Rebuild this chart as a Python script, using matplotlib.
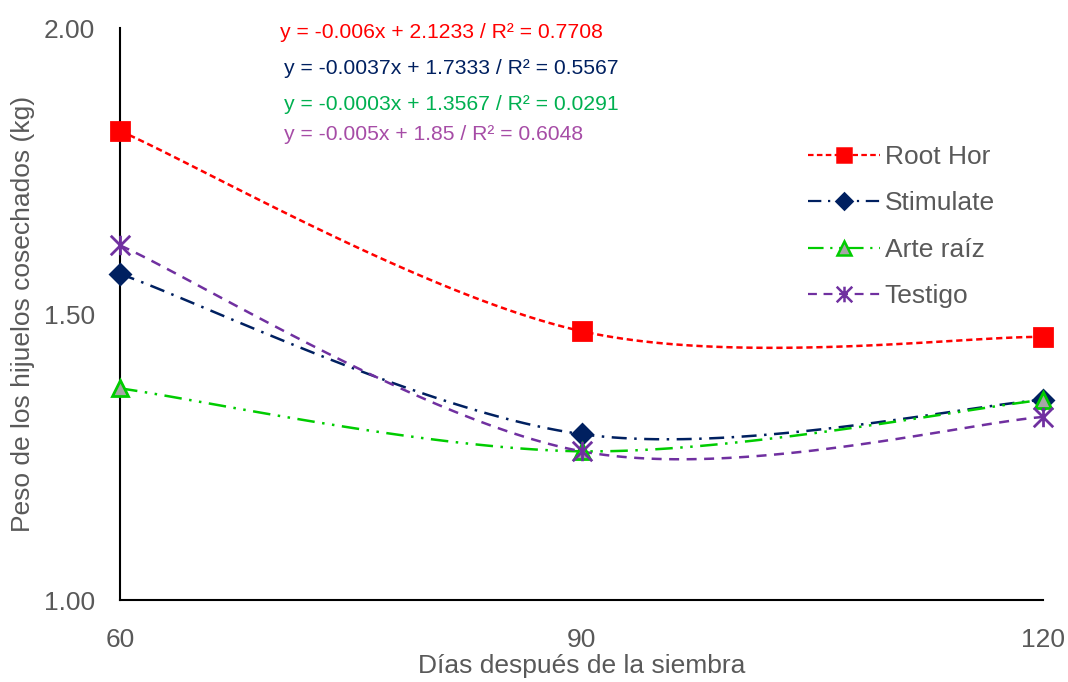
import numpy as np
import matplotlib
matplotlib.use("Agg")
import matplotlib.pyplot as plt
from matplotlib.path import Path

plt.rcParams['font.family'] = ['Liberation Sans', 'DejaVu Sans']

dias = [60, 90, 120]
root_hor = [1.82, 1.47, 1.46]
stimulate = [1.57, 1.29, 1.35]
arte_raiz = [1.37, 1.26, 1.35]
testigo = [1.62, 1.26, 1.32]

ecuaciones = [
    "y = -0.006x + 2.1233 / R² = 0.7708",
    "y = -0.0037x + 1.7333 / R² = 0.5567",
    "y = -0.0003x + 1.3567 / R² = 0.0291",
    "y = -0.005x + 1.85 / R² = 0.6048",
]
col_ec = ["#ff0000", "#002060", "#00b050", "#a64ca6"]


def suavizar(x, y, n=60):
    # curva suavizada tipo Excel (bezier con puntos de control a 1/6)
    x = np.asarray(x, float)
    y = np.asarray(y, float)
    px, py = [], []
    for i in range(len(x) - 1):
        i0 = max(i - 1, 0)
        i3 = min(i + 2, len(x) - 1)
        c1x = x[i] + (x[i + 1] - x[i0]) / 6
        c1y = y[i] + (y[i + 1] - y[i0]) / 6
        c2x = x[i + 1] - (x[i3] - x[i]) / 6
        c2y = y[i + 1] - (y[i3] - y[i]) / 6
        t = np.linspace(0, 1, n)
        a, b, c, d = (1 - t) ** 3, 3 * (1 - t) ** 2 * t, 3 * (1 - t) * t ** 2, t ** 3
        px.extend(a * x[i] + b * c1x + c * c2x + d * x[i + 1])
        py.extend(a * y[i] + b * c1y + c * c2y + d * y[i + 1])
    return px, py


estrella = Path([(-1, -1), (1, 1), (-1, 1), (1, -1), (0, -1), (0, 1)],
                [Path.MOVETO, Path.LINETO, Path.MOVETO, Path.LINETO, Path.MOVETO, Path.LINETO])

fig = plt.figure(figsize=(10.68, 6.82), dpi=100)
ax = fig.add_axes([0.1124, 0.1202, 0.8642, 0.8387])

series = [
    ("Root Hor", root_hor, "#ff0000", (0, (2.5, 1.5)), "s", "#ff0000", "#ff0000", 13),
    ("Stimulate", stimulate, "#002060", (0, (6, 3, 1, 3)), "D", "#002060", "#002060", 10),
    ("Arte raíz", arte_raiz, "#00cc00", (0, (7, 3, 1, 3, 1, 3)), "^", "#a6a6a6", "#00cc00", 12),
    ("Testigo", testigo, "#7030a0", (0, (4, 3)), estrella, "none", "#7030a0", 14),
]

for nombre, vals, col, ls, mk, mfc, mec, ms in series:
    sx, sy = suavizar(dias, vals)
    ax.plot(sx, sy, color=col, lw=1.8, ls=ls, clip_on=False)
    ax.plot(dias, vals, ls="none", marker=mk, ms=ms, mfc=mfc, mec=mec, mew=2,
            clip_on=False, zorder=4)
    ax.plot([], [], color=col, lw=1.6, ls=ls, marker=mk, ms=ms * 0.8, mfc=mfc,
            mec=mec, mew=1.8, label=nombre)

ax.set_xlim(60, 120)
ax.set_ylim(1.0, 2.0)
ax.set_xticks(dias)
ax.set_yticks([1.0, 1.5, 2.0])
ax.set_yticklabels(["1.00", "1.50", "2.00"])
for s in ["top", "right"]:
    ax.spines[s].set_visible(False)
for s in ["left", "bottom"]:
    ax.spines[s].set_linewidth(1.5)
ax.tick_params(length=0, labelsize=19, labelcolor="#595959")
ax.tick_params(axis="x", pad=20)
ax.tick_params(axis="y", pad=18)

ax.set_xlabel("Días después de la siembra", fontsize=19, color="#595959")
ax.set_ylabel("Peso de los hijuelos cosechados (kg)", fontsize=19, color="#595959")
ax.xaxis.set_label_coords(0.5, -0.094)
ax.yaxis.set_label_coords(-0.092, 0.5)

ax.legend(loc="upper left", bbox_to_anchor=(0.72, 0.837), frameon=False, fontsize=19,
          labelcolor="#595959", handlelength=2.7, handletextpad=0.2, labelspacing=0.85)

ypos = [33, 68, 104, 135]
xpos = [280, 284, 284, 284]
for txt, c, xp, yp in zip(ecuaciones, col_ec, xpos, ypos):
    fig.text(xp / 1068, 1 - yp / 682, txt, color=c, fontsize=15.2, va="center", ha="left")

plt.savefig("out.png", dpi=100)
